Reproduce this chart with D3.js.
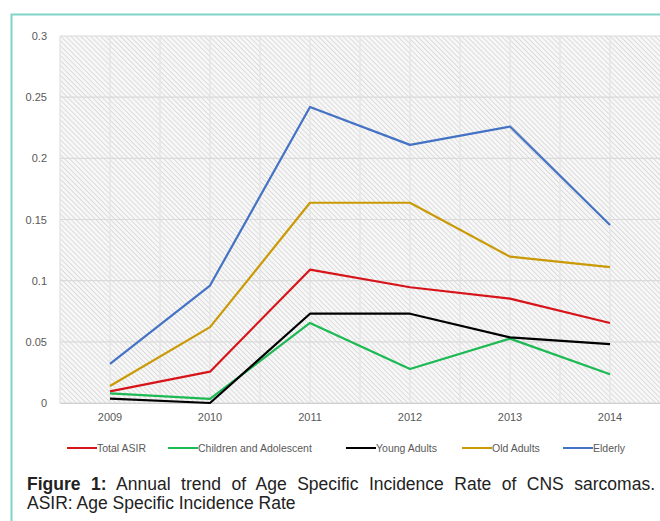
<!DOCTYPE html>
<html>
<head>
<meta charset="utf-8">
<script src="https://cdn.jsdelivr.net/npm/d3@7"></script>
<style>
  body { margin: 0; background: #fff; }
  svg { display: block; }
</style>
</head>
<body>
<div id="chart"></div>
<script>
// data
const years = ["2009", "2010", "2011", "2012", "2013", "2014"];
const totalAsir = [0.0095, 0.0256, 0.109, 0.0946, 0.0853, 0.0654];
const children = [0.0079, 0.0033, 0.0654, 0.0278, 0.0526, 0.0235];
const youngAdults = [0.0035, 0.0, 0.073, 0.073, 0.0537, 0.0482];
const oldAdults = [0.0139, 0.062, 0.1637, 0.1637, 0.1196, 0.111];
const elderly = [0.032, 0.096, 0.242, 0.211, 0.226, 0.1455];
const seriesNames = ["Total ASIR", "Children and Adolescent", "Young Adults", "Old Adults", "Elderly"];
const yTicks = [0, 0.05, 0.1, 0.15, 0.2, 0.25, 0.3];

const series = [totalAsir, children, youngAdults, oldAdults, elderly].map((v, i) => ({ name: seriesNames[i], values: v }));
const colors = ["#D7141A", "#1DB954", "#000000", "#C99A06", "#4472C4"];

const width = 660, height = 521;
const margin = { top: 36, right: 0, bottom: 118, left: 60 };
const w = width - margin.left - margin.right, h = height - margin.top - margin.bottom;
const axisFont = "'Liberation Sans', Arial, sans-serif";

const svg = d3.select("#chart").append("svg")
  .attr("width", width)
  .attr("height", height);

// teal frame
svg.append("path")
  .attr("d", `M11.5,${height} L11.5,14.5 L${width},14.5`)
  .attr("fill", "none")
  .attr("stroke", "#7fd6c8")
  .attr("stroke-width", 2);

// diagonal hatch behind the plot
const pat = svg.append("defs").append("pattern")
  .attr("id", "hatch")
  .attr("patternUnits", "userSpaceOnUse")
  .attr("width", 3.5).attr("height", 3.5)
  .attr("patternTransform", "rotate(-45)");
pat.append("rect").attr("width", 3.5).attr("height", 3.5).attr("fill", "#f7f7f7");
pat.append("line").attr("x1", 0).attr("y1", 0).attr("x2", 0).attr("y2", 3.5)
  .attr("stroke", "#cfcfcf").attr("stroke-width", 1.3);

const g = svg.append("g").attr("transform", `translate(${margin.left},${margin.top})`);

const x = d3.scaleBand().domain(years).range([0, w]);
const y = d3.scaleLinear().domain([0, 0.3]).range([h, 0]);

g.append("rect").attr("width", w).attr("height", h).attr("fill", "url(#hatch)");

// vertical gridlines at band edges and centers
const vx = [];
years.forEach(d => { vx.push(x(d)); vx.push(x(d) + x.bandwidth() / 2); });
g.selectAll(".vgrid").data(vx).enter().append("line")
  .attr("x1", d => d).attr("x2", d => d)
  .attr("y1", 0).attr("y2", h)
  .attr("stroke", "#e6e6e6").attr("stroke-width", 1.5);

g.selectAll(".hgrid").data(yTicks).enter().append("line")
  .attr("x1", 0).attr("x2", w)
  .attr("y1", d => y(d)).attr("y2", d => y(d))
  .attr("stroke", "#dadada").attr("stroke-width", 1.2);

// axes
const yAxis = g.append("g").call(d3.axisLeft(y).tickValues(yTicks).tickSize(0).tickPadding(13).tickFormat(d => String(+d.toFixed(2))));
yAxis.select(".domain").remove();
yAxis.selectAll("text").attr("fill", "#595959").style("font-family", axisFont).style("font-size", "11px");

const xAxis = g.append("g").attr("transform", `translate(0,${h})`)
  .call(d3.axisBottom(x).tickSize(0).tickPadding(10));
xAxis.select(".domain").attr("stroke", "#d0d0d0");
xAxis.selectAll("text").attr("fill", "#595959").style("font-family", axisFont).style("font-size", "11px");

// lines
const line = d3.line()
  .x((d, i) => x(years[i]) + x.bandwidth() / 2)
  .y(d => y(d));

g.selectAll(".series").data(series).enter().append("path")
  .attr("d", d => line(d.values))
  .attr("fill", "none")
  .attr("stroke", (d, i) => colors[i])
  .attr("stroke-width", 2.2)
  .attr("stroke-linejoin", "round");

// legend
const legendX = [67, 168, 346, 462, 563];
const leg = svg.append("g").attr("transform", "translate(0,448)");
const items = leg.selectAll("g").data(series).enter().append("g")
  .attr("transform", (d, i) => `translate(${legendX[i]},0)`);
items.append("line").attr("x1", 0).attr("x2", 30).attr("y1", 0).attr("y2", 0)
  .attr("stroke", (d, i) => colors[i]).attr("stroke-width", 2);
items.append("text").attr("x", 30).attr("dy", "0.35em")
  .attr("fill", "#595959")
  .style("font-family", axisFont)
  .style("font-size", "10.5px")
  .text(d => d.name);

// caption, first line justified to the right edge
const capFont = "'Liberation Sans', Arial, sans-serif";
const capText = " Annual trend of Age Specific Incidence Rate of CNS sarcomas.";
const cap = svg.append("text")
  .attr("x", 27).attr("y", 490)
  .style("font-family", capFont)
  .style("font-size", "17.5px")
  .attr("fill", "#222");
cap.append("tspan").attr("font-weight", "bold").text("Figure 1:");
cap.append("tspan").text(capText);
const natural = cap.node().getComputedTextLength();
const gaps = ("Figure 1:" + capText).split(" ").length - 1;
cap.attr("word-spacing", (628 - natural) / gaps);

svg.append("text")
  .attr("x", 27).attr("y", 509)
  .style("font-family", capFont)
  .style("font-size", "17.5px")
  .attr("fill", "#222")
  .text("ASIR: Age Specific Incidence Rate");
</script>
</body>
</html>
